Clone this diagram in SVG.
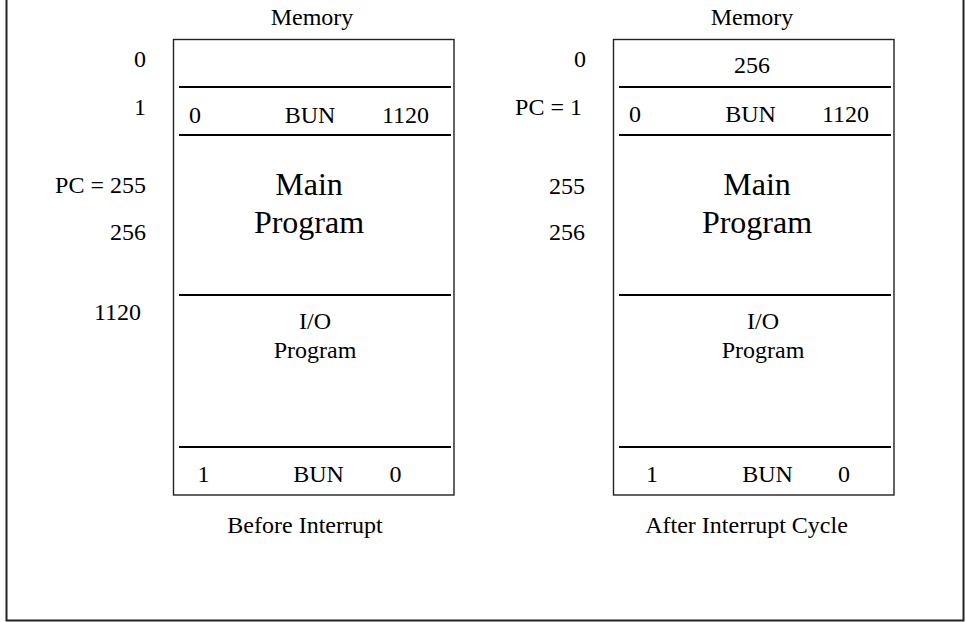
<svg xmlns="http://www.w3.org/2000/svg" width="966" height="622" viewBox="0 0 966 622">
  <style>
    .t { font-family: "Liberation Serif", "Times New Roman", serif; font-size: 24px; fill: #000; }
    .big { font-size: 32px; }
    .mid { text-anchor: middle; }
    .end { text-anchor: end; }
    .box { fill: #fff; stroke: #222; stroke-width: 1.4; }
    .div { stroke: #000; stroke-width: 2.2; }
    .frame { fill: none; stroke: #222; stroke-width: 2; }
  </style>

  <rect width="966" height="622" fill="#fff"/>
  <!-- outer frame, open at the top -->
  <path class="frame" d="M6.5,-4 V620.5 H963.5 V-4"/>

  <!-- memory before the interrupt -->
  <g id="memory-before">
    <text class="t mid" x="312" y="25">Memory</text>
    <rect class="box" x="173.5" y="39.5" width="280.5" height="455.5"/>
    <line class="div" x1="179" y1="87" x2="451" y2="87"/>
    <line class="div" x1="179" y1="135" x2="451" y2="135"/>
    <line class="div" x1="179" y1="295" x2="451" y2="295"/>
    <line class="div" x1="179" y1="447" x2="451" y2="447"/>

    <text class="t end" x="146" y="67">0</text>
    <text class="t end" x="146" y="115">1</text>
    <text class="t end" x="146" y="193">PC = 255</text>
    <text class="t end" x="146" y="240">256</text>
    <text class="t end" x="141" y="320">1120</text>

    <text class="t mid" x="195" y="123">0</text>
    <text class="t mid" x="310" y="123">BUN</text>
    <text class="t mid" x="405.5" y="123">1120</text>

    <text class="t big mid" x="309" y="195">Main</text>
    <text class="t big mid" x="309" y="233">Program</text>

    <text class="t mid" x="315" y="329">I/O</text>
    <text class="t mid" x="315" y="358">Program</text>

    <text class="t mid" x="203.5" y="482">1</text>
    <text class="t mid" x="318.5" y="482">BUN</text>
    <text class="t mid" x="395.5" y="482">0</text>

    <text class="t mid" x="305" y="533">Before Interrupt</text>
  </g>

  <!-- memory after the interrupt cycle -->
  <g id="memory-after">
    <text class="t mid" x="752" y="25">Memory</text>
    <rect class="box" x="613.5" y="39.5" width="280.5" height="455.5"/>
    <line class="div" x1="619" y1="87" x2="891" y2="87"/>
    <line class="div" x1="619" y1="135" x2="891" y2="135"/>
    <line class="div" x1="619" y1="295" x2="891" y2="295"/>
    <line class="div" x1="619" y1="447" x2="891" y2="447"/>

    <text class="t end" x="586" y="67">0</text>
    <text class="t end" x="582" y="115">PC = 1</text>
    <text class="t end" x="585" y="194">255</text>
    <text class="t end" x="585" y="240">256</text>

    <text class="t mid" x="752" y="73">256</text>

    <text class="t mid" x="635" y="122">0</text>
    <text class="t mid" x="750.5" y="122">BUN</text>
    <text class="t mid" x="845.5" y="122">1120</text>

    <text class="t big mid" x="757" y="195">Main</text>
    <text class="t big mid" x="757" y="233">Program</text>

    <text class="t mid" x="763" y="329">I/O</text>
    <text class="t mid" x="763" y="358">Program</text>

    <text class="t mid" x="652" y="482">1</text>
    <text class="t mid" x="767.5" y="482">BUN</text>
    <text class="t mid" x="844" y="482">0</text>

    <text class="t mid" x="746.5" y="533">After Interrupt Cycle</text>
  </g>

  <!-- no connectors in this figure -->
  <g id="connectors"/>
</svg>
